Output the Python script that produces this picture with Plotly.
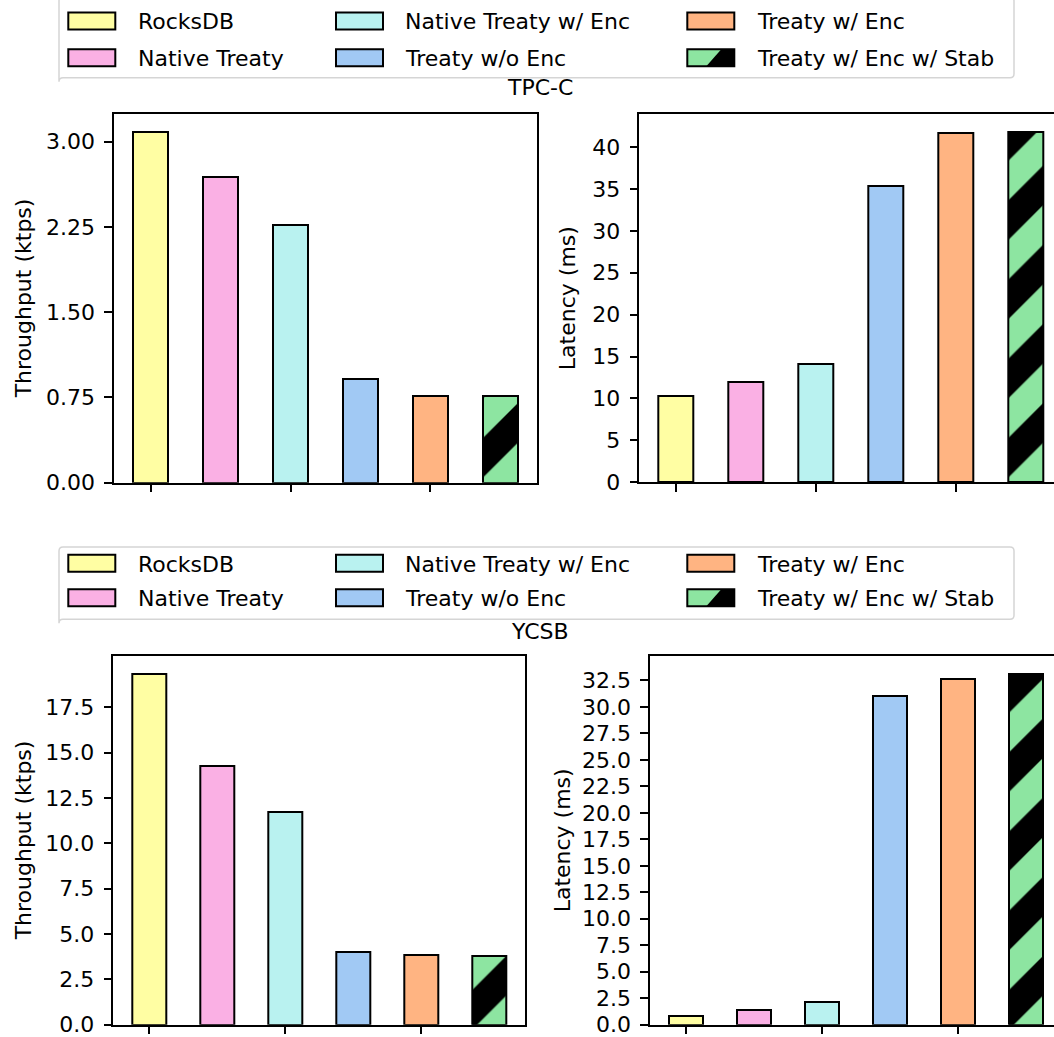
import plotly.graph_objects as go

W, H = 1054, 1037

categories = ["RocksDB", "Native Treaty", "Native Treaty w/ Enc",
              "Treaty w/o Enc", "Treaty w/ Enc", "Treaty w/ Enc w/ Stab"]
colors = ["#fffea3", "#fab0e4", "#b9f2f0", "#a1c9f4", "#ffb482", "#8de5a1"]
hatches = ["", "", "", "", "", "/"]

tpcc_throughput = [3.09, 2.69, 2.27, 0.91, 0.76, 0.76]
tpcc_latency = [10.3, 12.0, 14.1, 35.4, 41.65, 41.85]
ycsb_throughput = [19.35, 14.25, 11.72, 4.02, 3.83, 3.81]
ycsb_latency = [0.82, 1.42, 2.12, 30.99, 32.65, 33.15]

tpcc_tp_ticks = [0, 0.75, 1.5, 2.25, 3.0]
tpcc_lat_ticks = [0, 5, 10, 15, 20, 25, 30, 35, 40]
ycsb_tp_ticks = [0, 2.5, 5, 7.5, 10, 12.5, 15, 17.5]
ycsb_lat_ticks = [0, 2.5, 5, 7.5, 10, 12.5, 15, 17.5, 20, 22.5, 25, 27.5, 30, 32.5]

FONT = "DejaVu Sans"
FS = 22


def fx(p):
    return p / W


def fy(p):
    return 1 - p / H


fig = go.Figure()

panels = [
    (tpcc_throughput, tpcc_tp_ticks, "", (114, 537), (114, 482.7), 5.525, ".2f", "Throughput (ktps)", 23, True),
    (tpcc_latency, tpcc_lat_ticks, "2", (639.3, 1054), (114, 482.3), 5.408, "d", "Latency (ms)", 567, False),
    (ycsb_throughput, ycsb_tp_ticks, "3", (113.3, 525.3), (656, 1024.7), 5.525, ".1f", "Throughput (ktps)", 23, True),
    (ycsb_latency, ycsb_lat_ticks, "4", (650, 1054), (656, 1024.7), 5.407, ".1f", "Latency (ms)", 562, False),
]

for vals, ticks, sfx, xd, yd, xmax, fmt, ylab, lx, my in panels:
    for i, (name, val, col, hat) in enumerate(zip(categories, vals, colors, hatches)):
        pattern = dict(shape=hat, fillmode="overlay", fgcolor="black", fgopacity=1,
                       size=56, solidity=0.5) if hat else dict(shape="")
        fig.add_trace(go.Bar(
            x=[i], y=[val], width=0.5, name=name,
            xaxis="x" + sfx, yaxis="y" + sfx,
            marker=dict(color=col, line=dict(color="black", width=2), pattern=pattern),
            showlegend=False, hoverinfo="skip",
        ))
    ymax = max(vals) * 1.05
    fig.layout["xaxis" + sfx] = dict(
        domain=[fx(xd[0]), fx(xd[1])], range=[-0.525, xmax],
        anchor="y" + sfx, showgrid=False, zeroline=False, automargin=False,
        showline=True, linecolor="black", linewidth=1.8, mirror=True,
        ticks="outside", ticklen=7.7, tickwidth=1.8, tickcolor="black",
        tickvals=[0, 2, 4], showticklabels=False,
    )
    fig.layout["yaxis" + sfx] = dict(
        domain=[fy(yd[1]), fy(yd[0])], range=[0, ymax],
        anchor="x" + sfx, showgrid=False, zeroline=False, automargin=False,
        showline=True, linecolor="black", linewidth=1.8, mirror=my,
        ticks="outside", ticklen=7.7, tickwidth=1.8, tickcolor="black",
        tickvals=ticks, tickformat=fmt, ticklabelstandoff=5,
        ticklabeloverflow="allow",
        tickfont=dict(family=FONT, size=FS, color="black"),
    )
    fig.add_annotation(
        text=ylab, textangle=-90, xref="paper", yref="paper",
        x=fx(lx), y=fy((yd[0] + yd[1]) / 2), xanchor="center", yanchor="middle",
        showarrow=False, font=dict(family=FONT, size=FS, color="black"),
    )

shapes = []


def rounded_rect(x0, y0, x1, y1, r=4):
    X0, X1 = fx(x0), fx(x1)
    Y0, Y1 = fy(y0), fy(y1)
    rx, ry = r / W, r / H
    return (f"M {X0+rx},{Y0} L {X1-rx},{Y0} Q {X1},{Y0} {X1},{Y0-ry} "
            f"L {X1},{Y1+ry} Q {X1},{Y1} {X1-rx},{Y1} L {X0+rx},{Y1} "
            f"Q {X0},{Y1} {X0},{Y1-ry} L {X0},{Y0-ry} Q {X0},{Y0} {X0+rx},{Y0} Z")


col_patch_x = [68.3, 336, 687.3]
col_text_x = [136, 403, 755]
PW, PH = 47, 17

legend_specs = [
    ((59, -3, 1014, 77.7), (21, 57.7), "TPC-C", 88),
    ((59, 547, 1014, 619.3), (563.3, 597.7), "YCSB", 631),
]

for box, rows, title, ty in legend_specs:
    shapes.append(dict(type="path", path=rounded_rect(*box), xref="paper", yref="paper",
                       line=dict(color="#d5d5d5", width=1.5), fillcolor="rgba(255,255,255,0.8)",
                       layer="above"))
    for i, (name, col, hat) in enumerate(zip(categories, colors, hatches)):
        c, r = i // 2, i % 2
        px0 = col_patch_x[c]
        cy = rows[r]
        py0, py1 = cy - PH / 2, cy + PH / 2
        shapes.append(dict(type="rect", xref="paper", yref="paper",
                           x0=fx(px0), x1=fx(px0 + PW), y0=fy(py1), y1=fy(py0),
                           fillcolor=col, line=dict(width=0), layer="above"))
        if hat:
            path = (f"M {fx(px0+19)},{fy(py1)} L {fx(px0+34)},{fy(py0)} "
                    f"L {fx(px0+PW)},{fy(py0)} L {fx(px0+PW)},{fy(py1)} Z")
            shapes.append(dict(type="path", path=path, xref="paper", yref="paper",
                               fillcolor="black", line=dict(width=0), layer="above"))
        shapes.append(dict(type="rect", xref="paper", yref="paper",
                           x0=fx(px0), x1=fx(px0 + PW), y0=fy(py1), y1=fy(py0),
                           fillcolor="rgba(0,0,0,0)", line=dict(color="black", width=2),
                           layer="above"))
        fig.add_annotation(text=name, xref="paper", yref="paper",
                           x=fx(col_text_x[c]), y=fy(cy + 1), xanchor="left", yanchor="middle",
                           showarrow=False, font=dict(family=FONT, size=FS, color="black"))
    fig.add_annotation(text=title, xref="paper", yref="paper",
                       x=fx(540), y=fy(ty), xanchor="center", yanchor="middle",
                       showarrow=False, font=dict(family=FONT, size=FS, color="black"))

fig.update_layout(
    width=W, height=H, margin=dict(l=0, r=0, t=0, b=0, autoexpand=False),
    paper_bgcolor="white", plot_bgcolor="white",
    shapes=shapes, bargap=0, showlegend=False,
    font=dict(family=FONT, size=FS, color="black"),
)

fig.write_html("out.html")
